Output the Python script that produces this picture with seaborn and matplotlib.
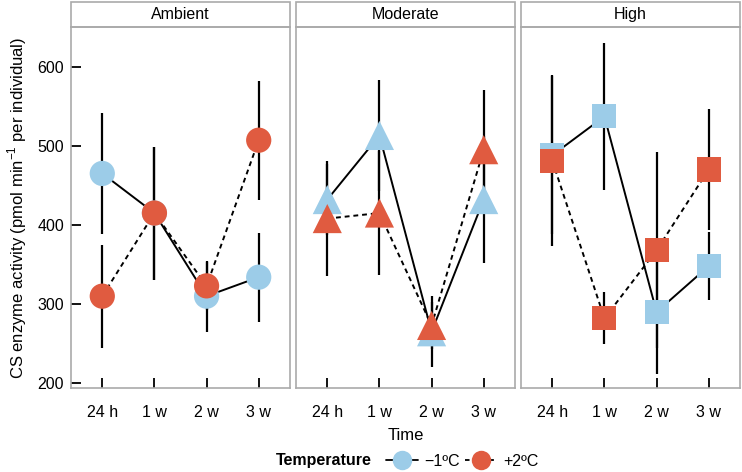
import numpy as np
import pandas as pd
import matplotlib.pyplot as plt
import seaborn as sns
from matplotlib.patches import Rectangle
from matplotlib.lines import Line2D

times = ["24 h", "1 w", "2 w", "3 w"]
levels = ["Ambient", "Moderate", "High"]
temps = ["\u22121\u00baC", "+2\u00baC"]

# means and error half-widths
cold_mean = {"Ambient": [465, 415, 310, 334], "Moderate": [432, 513, 265, 432], "High": [488, 537, 290, 348]}
cold_err = {"Ambient": [76, 84, 45, 56], "Moderate": [45, 70, 45, 80], "High": [100, 93, 78, 43]}
warm_mean = {"Ambient": [310, 415, 323, 507], "Moderate": [408, 415, 273, 495], "High": [481, 282, 368, 470]}
warm_err = {"Ambient": [65, 84, 30, 75], "Moderate": [73, 78, 30, 76], "High": [108, 33, 124, 77]}

rows = []
for lv in levels:
    for i, t in enumerate(times):
        rows.append([lv, temps[0], t, i, cold_mean[lv][i], cold_err[lv][i]])
        rows.append([lv, temps[1], t, i, warm_mean[lv][i], warm_err[lv][i]])
df = pd.DataFrame(rows, columns=["level", "temp", "time", "pos", "mean", "err"])

sns.set_style("white")
plt.rcParams["font.family"] = ["Liberation Sans", "DejaVu Sans"]
plt.rcParams["mathtext.fontset"] = "custom"
plt.rcParams["mathtext.rm"] = "Liberation Sans"
plt.rcParams["text.color"] = "black"
plt.rcParams["axes.labelcolor"] = "black"
plt.rcParams["xtick.color"] = "black"
plt.rcParams["ytick.color"] = "black"

colors = {temps[0]: "#9CCCE8", temps[1]: "#E05B40"}
dashes = {temps[0]: "-", temps[1]: (0, (2.5, 2))}
markers = {"Ambient": "o", "Moderate": "^", "High": "s"}
msize = {"Ambient": 330, "Moderate": 440, "High": 300}

fig = plt.figure(figsize=(7.42, 4.72), dpi=100)
W, H = 742, 472
left0, pw, gap = 71, 219, 6
bot, top = 388, 27
strip_h = 25

for k, lv in enumerate(levels):
    x0 = left0 + k * (pw + gap)
    ax = fig.add_axes([x0 / W, 1 - bot / H, pw / W, (bot - top) / H])
    sub = df[df["level"] == lv]
    # error bars
    for tp in temps:
        s = sub[sub["temp"] == tp]
        ax.vlines(s["pos"], s["mean"] - s["err"], s["mean"] + s["err"], color="black", lw=1.6, zorder=1)
    for tp in temps:
        s = sub[sub["temp"] == tp]
        sns.lineplot(data=s, x="pos", y="mean", color="black", lw=1.4, ax=ax, zorder=2,
                     linestyle=dashes[tp], legend=False)
    for tp in temps:
        s = sub[sub["temp"] == tp]
        sns.scatterplot(data=s, x="pos", y="mean", color=colors[tp], marker=markers[lv],
                        s=msize[lv], edgecolor="none", linewidth=0, ax=ax, zorder=3, legend=False)
    ax.set_xlim(-0.6, 3.6)
    ax.set_ylim(194, 650)
    ax.set_xticks(range(4))
    ax.set_xticklabels(times, fontsize=11.5)
    ax.set_xlabel("")
    ax.set_ylabel("")
    ax.tick_params(axis="x", direction="in", length=7, width=1.3, color="black", labelcolor="black",
                   pad=12, bottom=True)
    if k == 0:
        ax.set_yticks([200, 300, 400, 500, 600])
        ax.tick_params(axis="y", direction="in", length=7, width=1.3, color="black", labelcolor="black",
                       pad=5, labelsize=11.5, left=True)
        ax.set_ylabel(r"CS enzyme activity (pmol min$^{-1}$ per individual)", fontsize=12, labelpad=6,
                      color="black")
    else:
        ax.set_yticks([])
    for sp in ax.spines.values():
        sp.set_color("#aaaaaa")
        sp.set_linewidth(1.2)
    # strip
    ax.add_patch(Rectangle((0, 1), 1, strip_h / (bot - top), transform=ax.transAxes, clip_on=False,
                           facecolor="white", edgecolor="#aaaaaa", lw=1.2))
    ax.text(0.5, 1 + strip_h / 2 / (bot - top), lv, transform=ax.transAxes, ha="center", va="center",
            fontsize=11.5, color="black")
    if k == 1:
        ax.set_xlabel("Time", fontsize=12, labelpad=6, color="black")

fig.text(324 / W, 1 - 461 / H, "Temperature", fontsize=11.5, fontweight="bold", ha="center", va="center",
         color="black")
handles = [Line2D([0], [0], color="black", lw=1.3, linestyle=dashes[tp], marker="o", markersize=14,
                  markerfacecolor=colors[tp], markeredgecolor="none") for tp in temps]
fig.legend(handles, temps, loc="center left", bbox_to_anchor=(378 / W, 1 - 461 / H), ncol=2, frameon=False,
           fontsize=11.5, handlelength=2.0, handletextpad=0.4, columnspacing=0.3, borderpad=0,
           labelcolor="black")

fig.savefig("out.png", dpi=100)
